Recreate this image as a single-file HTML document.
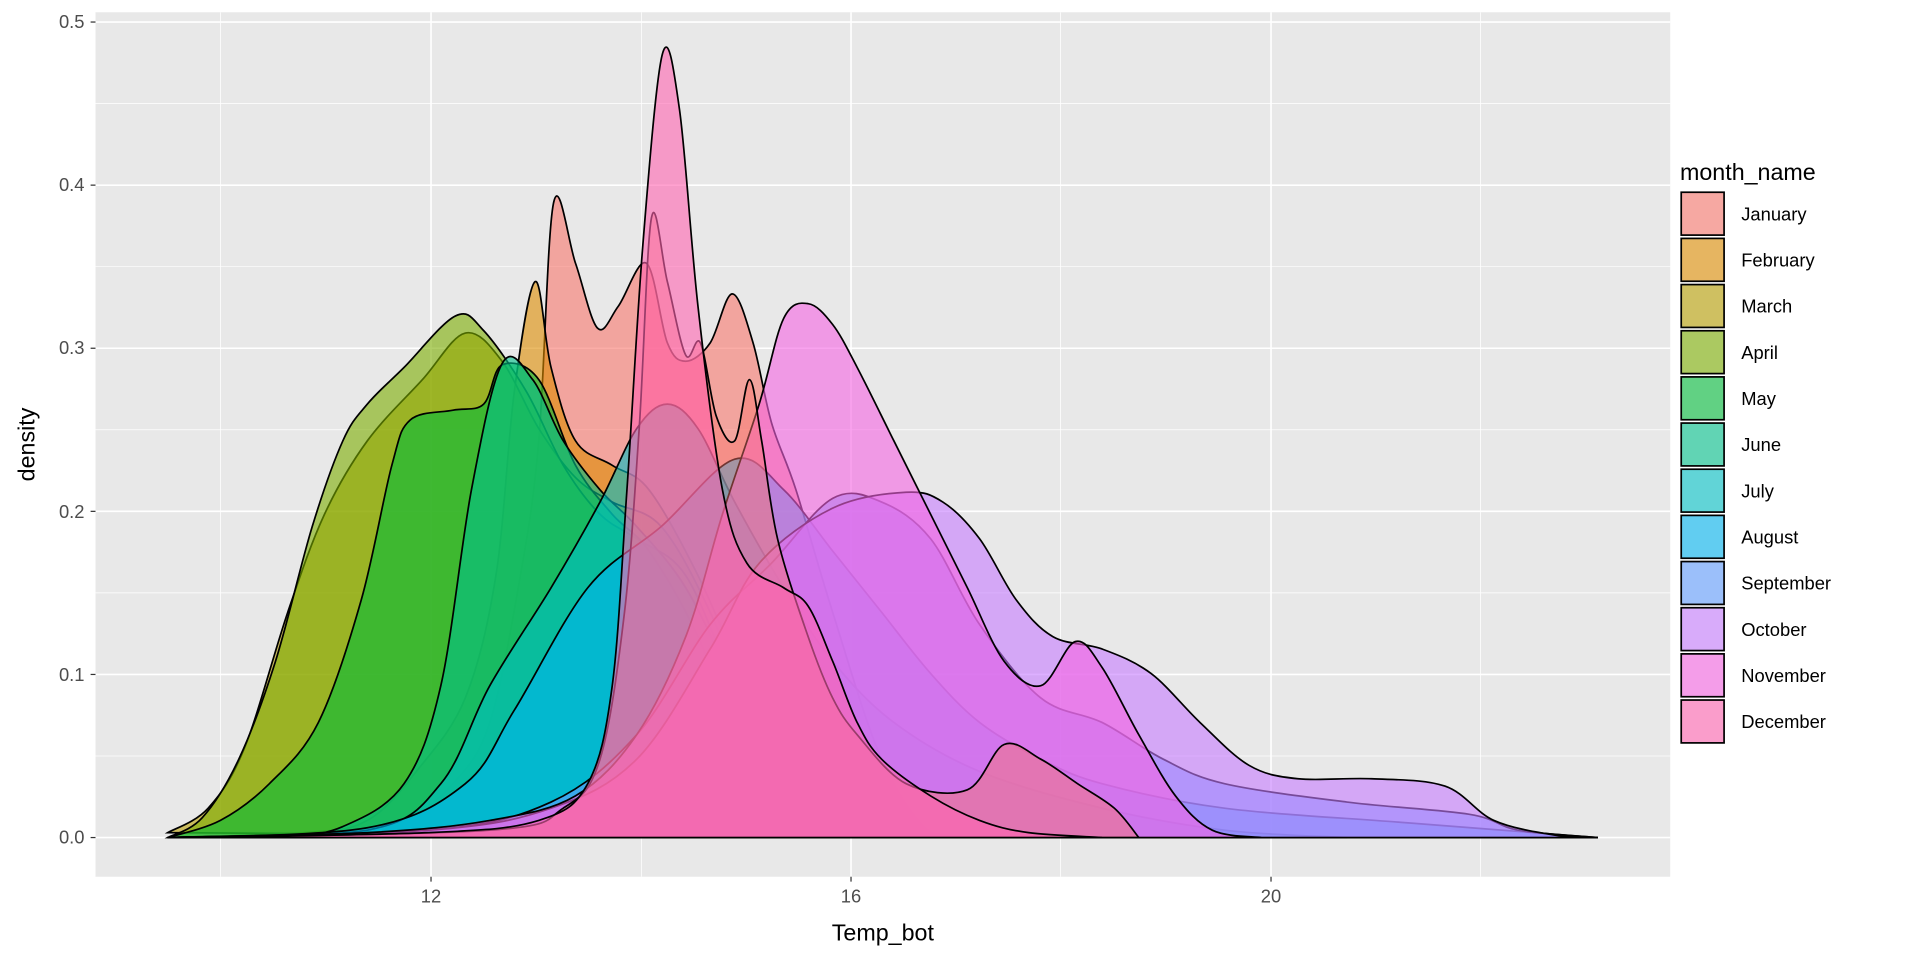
<!DOCTYPE html>
<html><head><meta charset="utf-8"><style>
html,body{margin:0;padding:0;background:#fff;}
svg{display:block;font-family:"Liberation Sans",Arial,sans-serif;}
</style></head><body>
<svg id="s" width="1920" height="960" viewBox="0 0 1568 784" xmlns="http://www.w3.org/2000/svg">
<rect x="0" y="0" width="1568" height="784" fill="#fff"/>
<rect x="78" y="10" width="1286" height="706" fill="#E8E8E8"/>
<g stroke="#fff" stroke-width="0.6">
<line x1="78" x2="1364" y1="617.4" y2="617.4"/><line x1="78" x2="1364" y1="484.2" y2="484.2"/>
<line x1="78" x2="1364" y1="351" y2="351"/><line x1="78" x2="1364" y1="217.8" y2="217.8"/>
<line x1="78" x2="1364" y1="84.6" y2="84.6"/>
<line y1="10" y2="716" x1="180" x2="180"/><line y1="10" y2="716" x1="524" x2="524"/>
<line y1="10" y2="716" x1="866" x2="866"/><line y1="10" y2="716" x1="1209" x2="1209"/>
</g>
<g stroke="#fff" stroke-width="1.3">
<line x1="78" x2="1364" y1="684" y2="684"/><line x1="78" x2="1364" y1="550.8" y2="550.8"/>
<line x1="78" x2="1364" y1="417.6" y2="417.6"/><line x1="78" x2="1364" y1="284.4" y2="284.4"/>
<line x1="78" x2="1364" y1="151.2" y2="151.2"/><line x1="78" x2="1364" y1="18" y2="18"/>
<line y1="10" y2="716" x1="352" x2="352"/><line y1="10" y2="716" x1="695" x2="695"/>
<line y1="10" y2="716" x1="1038" x2="1038"/>
</g>
<g id="curves"></g>
<g fill="#4D4D4D" font-size="15" text-anchor="end">
<text x="69" y="689">0.0</text><text x="69" y="556">0.1</text><text x="69" y="423">0.2</text>
<text x="69" y="289">0.3</text><text x="69" y="156">0.4</text><text x="69" y="23">0.5</text>
</g>
<g stroke="#333" stroke-width="1">
<line x1="74" x2="78" y1="684" y2="684"/><line x1="74" x2="78" y1="550.8" y2="550.8"/>
<line x1="74" x2="78" y1="417.6" y2="417.6"/><line x1="74" x2="78" y1="284.4" y2="284.4"/>
<line x1="74" x2="78" y1="151.2" y2="151.2"/><line x1="74" x2="78" y1="18" y2="18"/>
<line y1="716" y2="720" x1="352" x2="352"/><line y1="716" y2="720" x1="695" x2="695"/><line y1="716" y2="720" x1="1038" x2="1038"/>
</g>
<g fill="#4D4D4D" font-size="15" text-anchor="middle">
<text x="352" y="737">12</text><text x="695" y="737">16</text><text x="1038" y="737">20</text>
</g>
<text x="721" y="768" font-size="19" text-anchor="middle" fill="#000">Temp_bot</text>
<text transform="translate(28,363) rotate(-90)" font-size="19" text-anchor="middle" fill="#000">density</text>
<text x="1372" y="147" font-size="19" fill="#000">month_name</text>
<g id="legend"></g>
</svg>
<script>
var cols=["#F8766D","#DE8C00","#B79F00","#7CAE00","#00BA38","#00C08B","#00BFC4","#00B4F0","#619CFF","#C77CFF","#F564E3","#FF64B0"];
var names=["January","February","March","April","May","June","July","August","September","October","November","December"];
var D={
0:[[137,684],[280,682],[330,670],[370,640],[400,590],[425,470],[440,360],[452,166],[470,215],[488,268],[505,250],[528,215],[545,280],[560,295],[580,280],[598,240],[615,280],[630,345],[650,400],[680,500],[720,620],[760,680],[800,684]],
1:[[137,684],[250,680],[300,670],[340,630],[380,570],[405,470],[420,320],[437,230],[450,300],[470,360],[500,380],[530,400],[570,470],[610,560],[650,640],[700,680],[740,684]],
2:[[137,680],[170,660],[200,610],[235,500],[265,420],[300,360],[345,310],[380,272],[410,295],[440,350],[470,390],[500,410],[540,430],[580,500],[620,600],[660,670],[700,684]],
3:[[137,684],[165,668],[195,620],[225,540],[255,430],[280,360],[300,330],[330,300],[372,258],[395,270],[430,320],[460,380],[490,420],[520,440],[560,470],[600,560],[640,640],[680,680],[720,684]],
4:[[137,684],[180,670],[220,640],[260,590],[295,490],[320,380],[335,343],[370,335],[395,330],[410,298],[440,310],[470,380],[500,420],[530,450],[570,520],[610,620],[650,680],[690,684]],
5:[[137,684],[230,683],[280,675],[330,640],[360,560],[385,400],[410,297],[435,310],[460,360],[490,400],[520,430],[560,480],[600,560],[640,640],[680,680],[720,684]],
6:[[137,684],[300,678],[360,640],[400,560],[450,480],[490,410],[520,350],[545,330],[570,350],[600,410],[640,480],[680,540],[730,590],[800,630],[900,660],[1000,678],[1100,684]],
7:[[137,684],[300,676],[380,640],[420,580],[480,480],[540,430],[600,375],[640,400],[680,450],[720,500],[760,550],[800,590],[850,620],[900,640],[1000,660],[1150,672],[1305,684]],
8:[[137,684],[350,678],[450,655],[520,600],[580,510],[630,460],[680,407],[720,410],[760,440],[800,510],[850,570],[900,590],[950,620],[1000,640],[1100,655],[1200,665],[1240,678],[1305,684]],
9:[[137,684],[350,678],[450,660],[520,620],[580,530],[620,460],[680,415],[740,402],[770,410],[800,440],[830,490],[860,520],[900,530],[940,550],[980,590],[1020,625],[1060,636],[1120,636],[1180,642],[1220,670],[1270,682],[1305,684]],
10:[[137,684],[300,680],[400,670],[470,650],[520,600],[560,520],[590,420],[620,330],[640,260],[660,248],[680,265],[700,300],[730,360],[760,420],[790,480],[820,540],[850,560],[878,524],[900,545],[930,600],[960,650],[990,678],[1030,684]],
11:[[137,684],[350,680],[440,670],[480,640],[500,560],[512,400],[525,200],[541,44],[555,90],[570,250],[590,400],[610,460],[640,480],[660,495],[680,540],[700,590],[720,620],[760,650],[800,670],[840,680],[900,684]]
};
var extra=[[137,684],[400,678],[460,660],[490,620],[510,500],[522,350],[532,178],[545,230],[560,290],[572,280],[585,340],[600,360],[612,310],[622,360],[635,440],[660,520],[680,570],[700,600],[740,640],[790,645],[820,608],[850,620],[880,640],[910,660],[930,684]];
function path(p){var s="M"+p[0][0]+","+p[0][1];for(var i=0;i<p.length-1;i++){var p0=p[Math.max(i-1,0)],p1=p[i],p2=p[i+1],p3=p[Math.min(i+2,p.length-1)];
var c1=[p1[0]+(p2[0]-p0[0])/6,p1[1]+(p2[1]-p0[1])/6],c2=[p2[0]-(p3[0]-p1[0])/6,p2[1]-(p3[1]-p1[1])/6];
c1[1]=Math.min(c1[1],684);c2[1]=Math.min(c2[1],684);
s+=" C"+c1[0].toFixed(1)+","+c1[1].toFixed(1)+" "+c2[0].toFixed(1)+","+c2[1].toFixed(1)+" "+p2[0]+","+p2[1];}return s+" Z";}
var g=document.getElementById("curves"),h="";
for(var k=0;k<12;k++){h+='<path d="'+path(D[k])+'" fill="'+cols[k]+'" fill-opacity="0.6" stroke="#000" stroke-width="1.4"/>';
if(k==10)h+='<path d="'+path(extra)+'" fill="#F8766D" fill-opacity="0.45" stroke="#000" stroke-width="1.4"/>';}
g.innerHTML=h;
var L="";for(var k=0;k<12;k++){var y=156+k*37.7;
L+='<rect x="1373" y="'+(y+1)+'" width="35" height="35" fill="#F2F2F2"/><rect x="1373" y="'+(y+1)+'" width="35" height="35" fill="'+cols[k]+'" fill-opacity="0.6" stroke="#000" stroke-width="1.4"/>';
L+='<text x="1422" y="'+(y+24)+'" font-size="15" fill="#000">'+names[k]+'</text>';}
document.getElementById("legend").innerHTML=L;
</script>
</body></html>
